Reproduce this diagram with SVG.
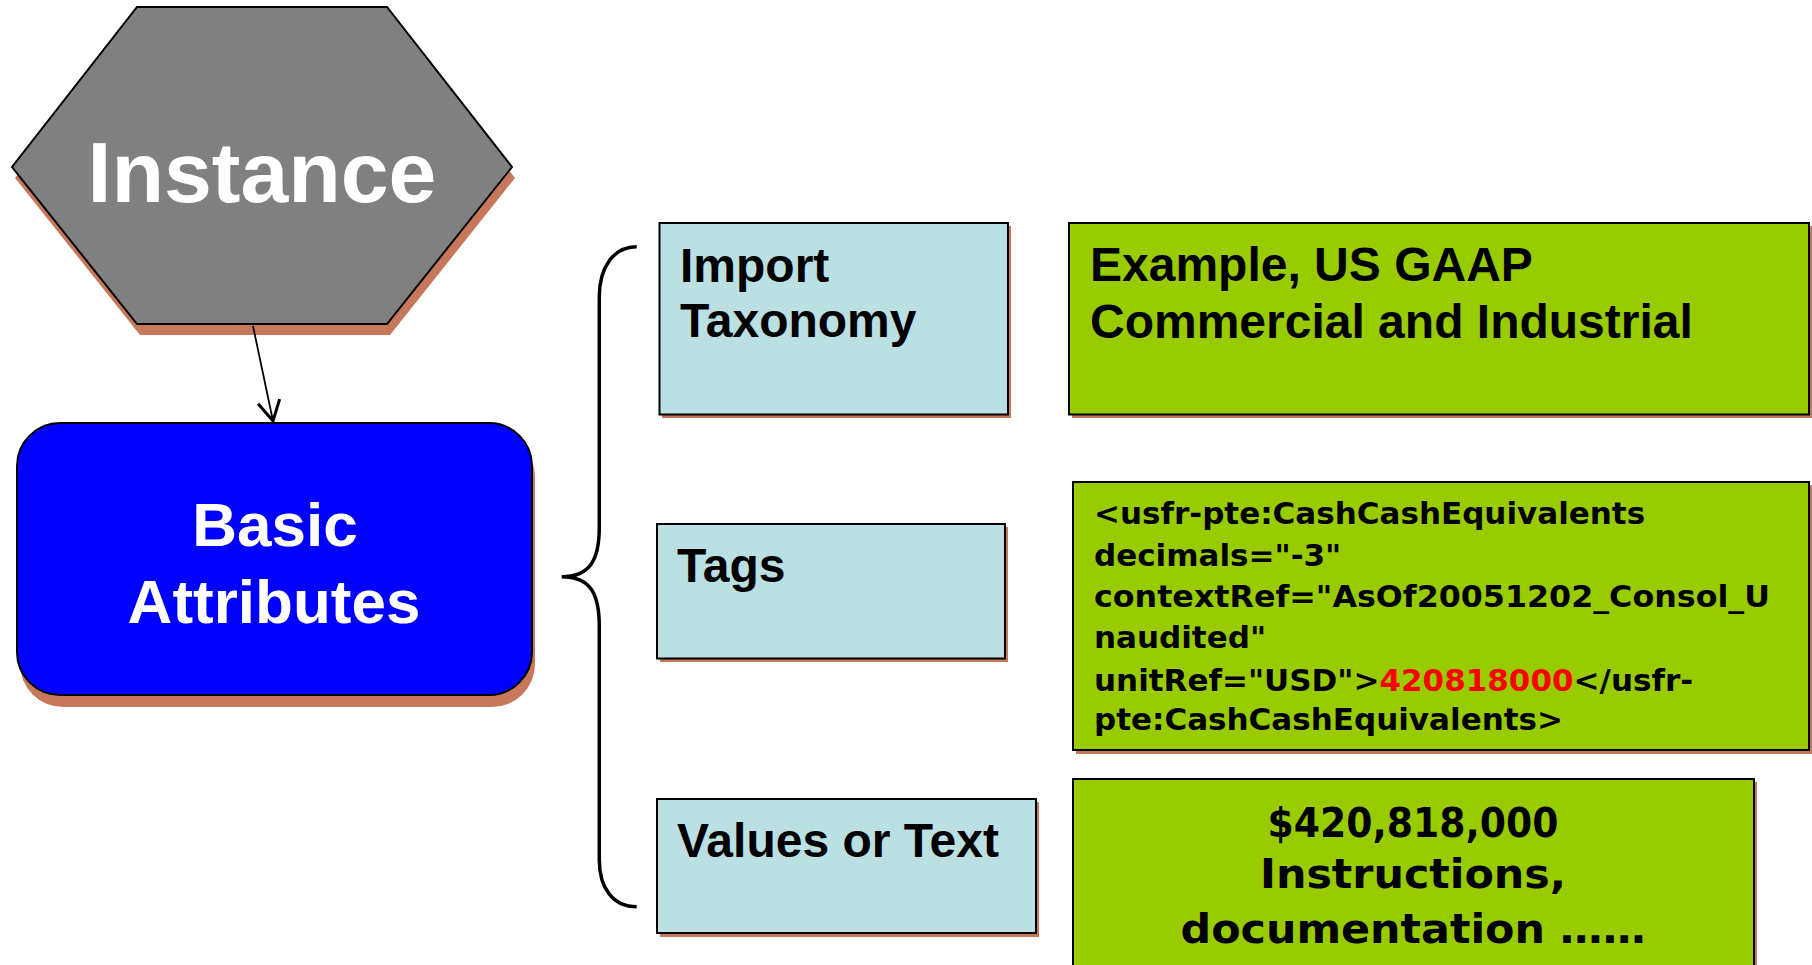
<svg xmlns="http://www.w3.org/2000/svg" width="1812" height="965" viewBox="0 0 1812 965">
  <style>
    .shadow { fill: #C8785A; }
    .edge { stroke: #000; stroke-width: 2; }
    .title { font-family: "Liberation Sans", Arial, sans-serif; font-weight: bold; fill: #fff; }
    .label { font-family: "Liberation Sans", Arial, sans-serif; font-weight: bold; font-size: 48px; fill: #000; }
    .code { font-family: "DejaVu Sans", Verdana, sans-serif; font-weight: bold; fill: #000; }
    .blue-box { fill: #BBE0E3; }
    .green-box { fill: #99CC00; }
    .conn { fill: none; stroke: #000; stroke-width: 1.8; }
    .brace { fill: none; stroke: #000; stroke-width: 3.5; }
  </style>
  <defs>
    <marker id="open-arrow" markerWidth="26" markerHeight="26" refX="22" refY="13" orient="auto" markerUnits="userSpaceOnUse">
      <path d="M2,2 L22,13 L2,24" fill="none" stroke="#000" stroke-width="3"/>
    </marker>
  </defs>
  <rect width="1812" height="965" fill="#fff"/>

  <!-- Instance hexagon -->
  <g id="instance">
    <polygon class="shadow" points="140,18 390,18 515,178 390,335 140,335 15,178"/>
    <polygon class="edge" fill="#808080" points="137,7 387,7 512,167 387,324 137,324 12,167"/>
    <text class="title" x="262" y="202" font-size="86" text-anchor="middle">Instance</text>
  </g>

  <!-- Basic Attributes -->
  <g id="basic-attributes">
    <rect class="shadow" x="20" y="434" width="515" height="273" rx="43" ry="43"/>
    <rect class="edge" fill="#0000FF" x="17" y="423" width="515" height="272" rx="43" ry="43"/>
    <text class="title" font-size="62" text-anchor="middle" x="275" y="546">Basic</text>
    <text class="title" font-size="62" text-anchor="middle" x="274" y="623">Attributes</text>
  </g>

  <!-- Import Taxonomy -->
  <g id="import-taxonomy">
    <rect class="shadow" x="662" y="226" width="349" height="192"/>
    <rect class="blue-box edge" x="659.5" y="223" width="348.5" height="191.5"/>
    <text class="label">
      <tspan x="680" y="282">Import</tspan>
      <tspan x="680" y="337">Taxonomy</tspan>
    </text>
  </g>

  <!-- Tags -->
  <g id="tags">
    <rect class="shadow" x="660" y="527" width="348" height="135"/>
    <rect class="blue-box edge" x="657" y="524" width="348" height="134.5"/>
    <text class="label" x="677" y="582">Tags</text>
  </g>

  <!-- Values or Text -->
  <g id="values-or-text">
    <rect class="shadow" x="660" y="802" width="379" height="135"/>
    <rect class="blue-box edge" x="657" y="799" width="379" height="134"/>
    <text class="label" x="677" y="857">Values or Text</text>
  </g>

  <!-- Taxonomy example -->
  <g id="taxonomy-example">
    <rect class="shadow" x="1072" y="226" width="740" height="192"/>
    <rect class="green-box edge" x="1069" y="223" width="740" height="191.5"/>
    <text class="label">
      <tspan x="1090" y="281">Example, US GAAP</tspan>
      <tspan x="1090" y="338">Commercial and Industrial</tspan>
    </text>
  </g>

  <!-- Tag example -->
  <g id="tag-example">
    <rect class="shadow" x="1076" y="485" width="736" height="269"/>
    <rect class="green-box edge" x="1073" y="482" width="736" height="268"/>
    <text class="code" font-size="31">
      <tspan x="1094" y="524">&lt;usfr-pte:CashCashEquivalents</tspan>
      <tspan x="1094" y="566">decimals="-3"</tspan>
      <tspan x="1094" y="607" textLength="676" lengthAdjust="spacingAndGlyphs">contextRef="AsOf20051202_Consol_U</tspan>
      <tspan x="1094" y="648">naudited"</tspan>
      <tspan x="1094" y="691">unitRef="USD"&gt;<tspan fill="#FF0000">420818000</tspan>&lt;/usfr-</tspan>
      <tspan x="1094" y="730">pte:CashCashEquivalents&gt;</tspan>
    </text>
  </g>

  <!-- Value example -->
  <g id="value-example">
    <rect class="shadow" x="1076" y="782" width="681" height="190"/>
    <rect class="green-box edge" x="1073" y="779" width="681" height="190"/>
    <text class="code" font-size="40" text-anchor="middle" x="1413" y="837" textLength="291" lengthAdjust="spacingAndGlyphs">$420,818,000</text>
    <text class="code" font-size="40" text-anchor="middle" x="1413" y="888" textLength="306" lengthAdjust="spacingAndGlyphs">Instructions,</text>
    <text class="code" font-size="40" text-anchor="middle" x="1413" y="943" textLength="465" lengthAdjust="spacingAndGlyphs">documentation ……</text>
  </g>

  <!-- Connectors -->
  <g id="connectors">
    <line class="conn" x1="253" y1="326" x2="273" y2="421" marker-end="url(#open-arrow)"/>
    <path class="brace" d="M636.7,246.7 C613,246.7 599.3,268 599.3,296.7 L599.3,526.7 C599.3,560 590,576.7 561.7,576.7 C590,576.7 599.3,593 599.3,626.7 L599.3,860 C599.3,888 613,906.7 636.7,906.7"/>
  </g>
</svg>
